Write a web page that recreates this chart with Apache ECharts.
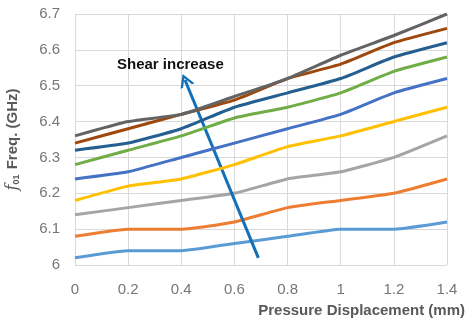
<!DOCTYPE html>
<html>
<head>
<meta charset="utf-8">
<script src="https://cdn.jsdelivr.net/npm/echarts@6/dist/echarts.min.js"></script>
<style>
  html, body { margin: 0; padding: 0; background: #ffffff; }
  #chart { width: 466px; height: 324px; }
</style>
</head>
<body>
<div id="chart"></div>
<script>
// Pressure displacement (mm) at which each frequency was measured
const displacement = [0, 0.2, 0.4, 0.6, 0.8, 1.0, 1.2, 1.4];

// f01 frequency (GHz), one curve per shear level (lowest shear first)
const shear1 = [6.02, 6.04, 6.04, 6.06, 6.08, 6.10, 6.10, 6.12];
const shear2 = [6.08, 6.10, 6.10, 6.12, 6.16, 6.18, 6.20, 6.24];
const shear3 = [6.14, 6.16, 6.18, 6.20, 6.24, 6.26, 6.30, 6.36];
const shear4 = [6.18, 6.22, 6.24, 6.28, 6.33, 6.36, 6.40, 6.44];
const shear5 = [6.24, 6.26, 6.30, 6.34, 6.38, 6.42, 6.48, 6.52];
const shear6 = [6.28, 6.32, 6.36, 6.41, 6.44, 6.48, 6.54, 6.58];
const shear7 = [6.32, 6.34, 6.38, 6.44, 6.48, 6.52, 6.58, 6.62];
const shear8 = [6.34, 6.38, 6.42, 6.46, 6.52, 6.56, 6.62, 6.66];
const shear9 = [6.36, 6.40, 6.42, 6.47, 6.52, 6.585, 6.64, 6.70];

const curves = [shear1, shear2, shear3, shear4, shear5, shear6, shear7, shear8, shear9];
const curveColors = ['#5B9BD5', '#ED7D31', '#A5A5A5', '#FFC000', '#4472C4',
                     '#70AD47', '#255E91', '#9E480E', '#636363'];

// Axis tick labels
const xTickLabels = ['0', '0.2', '0.4', '0.6', '0.8', '1', '1.2', '1.4'];
const yTickLabels = ['6', '6.1', '6.2', '6.3', '6.4', '6.5', '6.6', '6.7'];

// Direction of increasing shear: from (displacement, GHz) to (displacement, GHz)
const arrowFrom = [0.69, 6.02];
const arrowTo = [0.414, 6.516];
const arrowText = 'Shear increase';

const chart = echarts.init(document.getElementById('chart'), null, { renderer: 'canvas' });

const gridColor = '#d9d9d9';
const labelColor = '#767676';
const titleColor = '#595959';
const font = "'Liberation Sans', Arial, sans-serif";

const series = curves.map((vals, i) => ({
  type: 'line',
  data: vals.map((v, j) => [displacement[j], v]),
  showSymbol: false,
  smooth: 0.15,
  lineStyle: { width: 3, color: curveColors[i] },
  itemStyle: { color: curveColors[i] },
  z: 2 + i
}));

// Arrow annotation drawn on the value scales
series.push({
  type: 'line',
  data: [],
  z: 20,
  markLine: {
    silent: true,
    animation: false,
    symbol: ['none', 'path://M0,10 L5,0 L10,10 L8.2,10 L5,3.6 L1.8,10 Z'],
    symbolSize: [15, 13],
    lineStyle: { color: '#1170B8', width: 3, type: 'solid' },
    label: { show: false },
    data: [[{ coord: arrowFrom }, { coord: arrowTo }]]
  }
});

chart.setOption({
  animation: false,
  backgroundColor: '#ffffff',
  grid: { left: 75, right: 19, top: 14, bottom: 59, containLabel: false, outerBoundsMode: 'none' },
  xAxis: {
    type: 'value',
    min: 0,
    max: 1.4,
    interval: 0.2,
    name: 'Pressure Displacement (mm)',
    nameLocation: 'end',
    nameGap: 18,
    nameTextStyle: {
      color: titleColor, fontSize: 15, fontWeight: 'bold', fontFamily: font,
      align: 'right', verticalAlign: 'top', padding: [38, 0, 0, 0]
    },
    axisLine: { show: false },
    axisTick: { show: false },
    splitLine: { show: true, lineStyle: { color: gridColor, width: 1 } },
    axisLabel: {
      color: labelColor, fontSize: 15, fontFamily: font, margin: 17,
      formatter: (v) => xTickLabels[Math.round(v / 0.2)]
    }
  },
  yAxis: {
    type: 'value',
    min: 6,
    max: 6.7,
    interval: 0.1,
    name: '{f|f}{sub|01} Freq. (GHz)',
    nameLocation: 'middle',
    nameRotate: 90,
    nameGap: 54,
    nameTextStyle: {
      color: titleColor, fontSize: 15, fontWeight: 'bold', fontFamily: font,
      rich: {
        f: { fontFamily: "'DejaVu Serif', serif", fontStyle: 'italic', fontWeight: 'normal',
             fontSize: 16, color: titleColor },
        sub: { fontFamily: font, fontSize: 9, color: titleColor, verticalAlign: 'bottom',
               padding: [6, 1, 0, 0] }
      }
    },
    axisLine: { show: false },
    axisTick: { show: false },
    splitLine: { show: true, lineStyle: { color: gridColor, width: 1 } },
    axisLabel: {
      color: labelColor, fontSize: 15, fontFamily: font, margin: 15,
      formatter: (v) => yTickLabels[Math.round((v - 6) / 0.1)]
    }
  },
  graphic: [{
    type: 'text',
    left: 117,
    top: 57,
    z: 30,
    style: {
      text: arrowText,
      fill: '#111111',
      font: "bold 15px 'Liberation Sans', Arial, sans-serif"
    }
  }],
  series: series
});
</script>
</body>
</html>
